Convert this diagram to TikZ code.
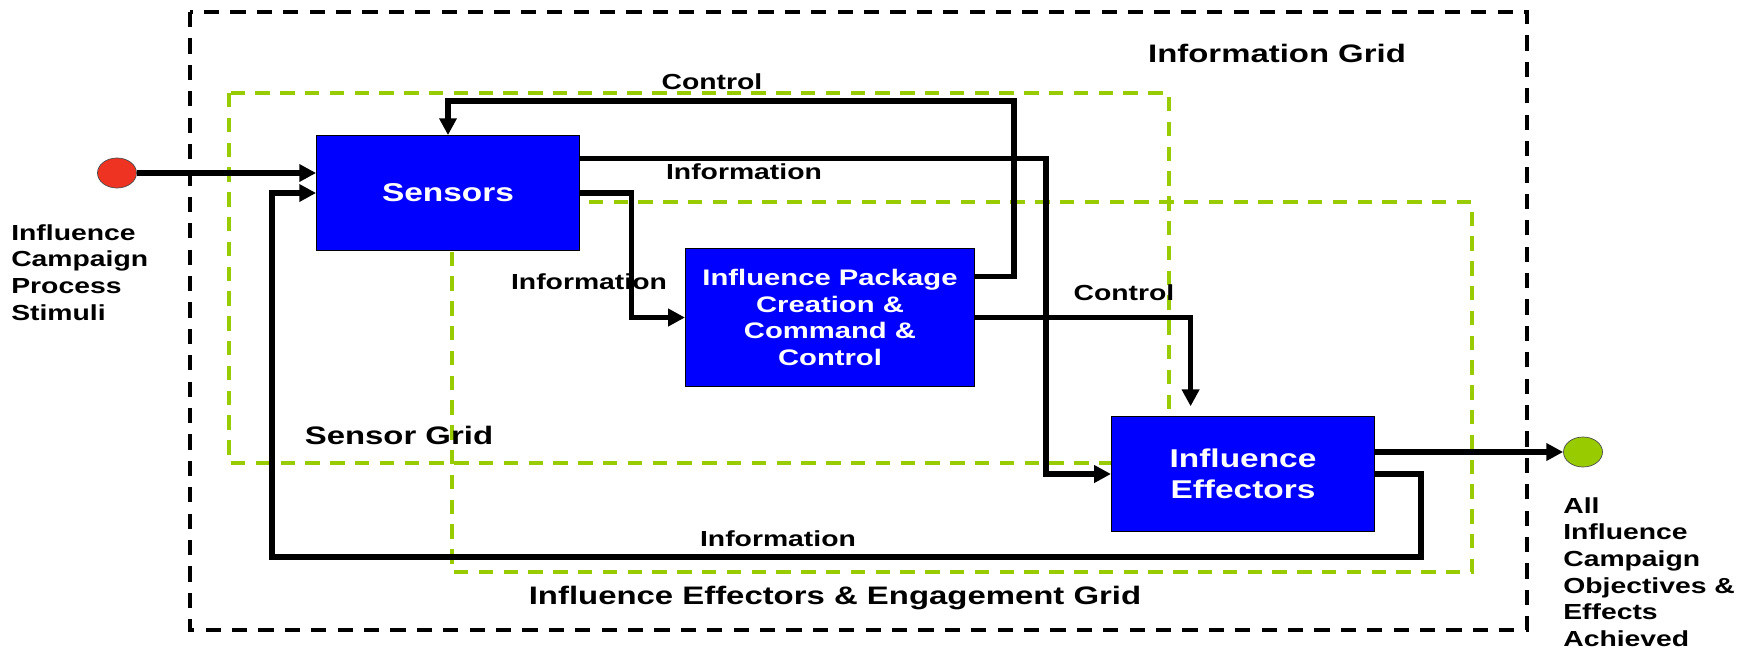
\documentclass[tikz,border=0pt]{standalone}
\usepackage{fontspec}
\setmainfont{Liberation Sans}[FakeStretch=1.3]
\usetikzlibrary{arrows.meta,shapes.geometric}
\definecolor{boxblue}{HTML}{0000FF}
\definecolor{gridgreen}{HTML}{99CC00}
\definecolor{stimred}{HTML}{EE3322}

\begin{document}
\begin{tikzpicture}[
        x=0.25mm, y=-0.25mm,
        block/.style={rectangle, draw=black, line width=0.6pt, fill=boxblue, text=white, align=center, font=\bfseries\fontsize{18.3}{21.8}\selectfont},
        flow/.style={line width=1.35mm, -{Triangle[length=4.2mm,width=4.2mm]}},
        outergrid/.style={draw=black, line width=1.1mm, dash pattern=on 3.8mm off 2.8mm},
        subgrid/.style={draw=gridgreen, line width=1mm, dash pattern=on 3.6mm off 2.6mm},
        gridlabel/.style={font=\bfseries\fontsize{18}{21}\selectfont},
        flowlabel/.style={font=\bfseries\fontsize{15.5}{19}\selectfont},
        sidelabel/.style={anchor=north west, inner sep=0pt, align=left, font=\bfseries\fontsize{15.5}{19}\selectfont},
        terminal/.style={ellipse, draw=black!70, line width=0.5pt, minimum width=9.75mm, minimum height=7.5mm, inner sep=0pt}
    ]

    \useasboundingbox (0,0) rectangle (1753,651);

    % Define grids
    \draw[outergrid] (190,12) rectangle (1527,630);
    \draw[subgrid] (229,93) rectangle (1169,463);
    \draw[subgrid] (452,202) rectangle (1472,572);
    \node[gridlabel] (infogrid) at (1277,53) {Information Grid};
    \node[gridlabel] (sensorgrid) at (399,435) {Sensor Grid};
    \node[gridlabel] (effectorgrid) at (835,598) {Influence Effectors \& Engagement Grid};

    % Define blocks
    \node[block, minimum width=65.75mm, minimum height=28.75mm] (sensors) at (448,193) {Sensors};
    \node[block, minimum width=72.3mm, minimum height=34.5mm, font=\bfseries\fontsize{16}{19}\selectfont] (ipc) at (830,317.5) {Influence Package\\Creation \&\\Command \&\\Control};
    \node[block, minimum width=65.8mm, minimum height=28.85mm] (effectors) at (1243,474) {Influence\\Effectors};

    % Start and end points
    \node[terminal, fill=stimred] (stimuli) at (117,173) {};
    \node[terminal, fill=gridgreen] (goal) at (1583,452) {};
    \node[sidelabel] (stimtext) at (11,224) {Influence\\Campaign\\Process\\Stimuli};
    \node[sidelabel] (goaltext) at (1563,497) {All\\Influence\\Campaign\\Objectives \&\\Effects\\Achieved};

    % Flow labels
    \node[flowlabel] (ctltop) at (712,82) {Control};
    \node[flowlabel] (infotop) at (744,172) {Information};
    \node[flowlabel] (infomid) at (589,282) {Information};
    \node[flowlabel] (ctlright) at (1124,293) {Control};
    \node[flowlabel] (infobottom) at (778,539) {Information};

    % Flows
    \draw[flow] (stimuli.east) -- (stimuli.east -| sensors.west);
    \draw[flow] ([yshift=10.2mm]ipc.east) -- ++(39,0) |- ([yshift=8.5mm]sensors.north) -- (sensors.north);
    \draw[flow] ([yshift=8.7mm]sensors.east) -| ([xshift=-16.2mm]effectors.west) -- (effectors.west);
    \draw[flow] (sensors.east) -| ([xshift=-13.3mm]ipc.west) -- (ipc.west);
    \draw[flow, shorten >=2.4mm] (ipc.east) -| ([xshift=-13.1mm]effectors.north);
    \draw[flow] (goal.west -| effectors.east) -- (goal.west);
    \draw[flow] (effectors.east) -- ++(46,0) -- ++(0,83) -| ([xshift=-11mm]sensors.west) -- (sensors.west);

\end{tikzpicture}
\end{document}
